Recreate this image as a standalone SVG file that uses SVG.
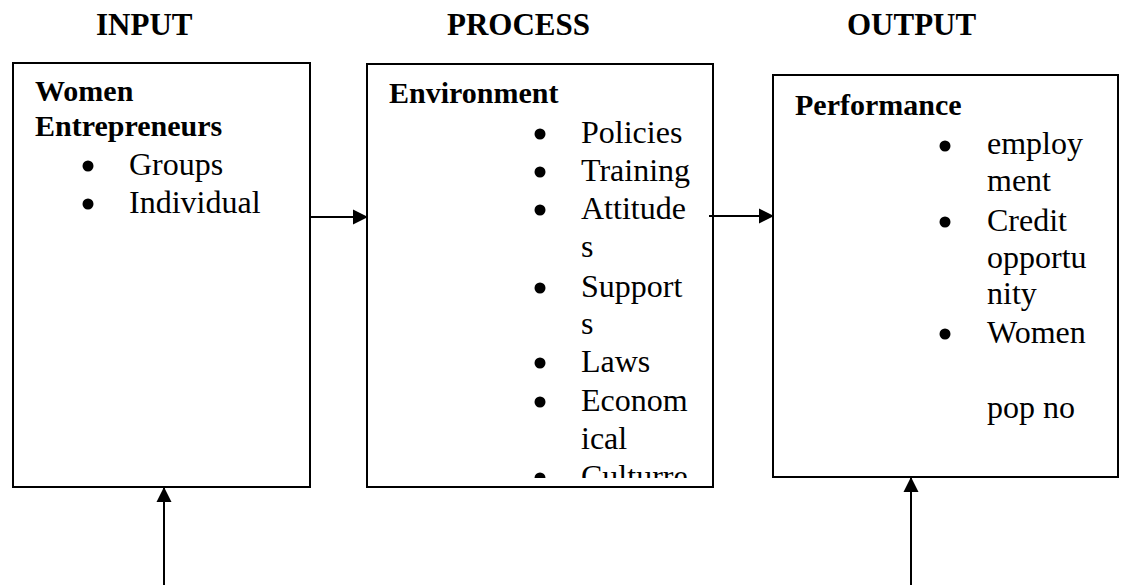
<svg xmlns="http://www.w3.org/2000/svg" width="1121" height="585" viewBox="0 0 1121 585">
<style>
.t{font-family:"Liberation Serif","DejaVu Serif","Times New Roman",serif;fill:#000}
.h{font-weight:700;font-size:31px}
.b{font-weight:700;font-size:30px}
.r{font-weight:400;font-size:32px}
.box{fill:#fff;stroke:#000;stroke-width:2}
.c{stroke:#000;stroke-width:2;fill:none}
</style>
<defs>
<marker id="ah" markerUnits="userSpaceOnUse" markerWidth="16" markerHeight="16" refX="15" refY="7.5" orient="auto" overflow="visible">
<path d="M0,0 L15,7.5 L0,15 z" fill="#000"/>
</marker>
<clipPath id="clip2"><rect x="367" y="64" width="346" height="414"/></clipPath>
</defs>
<rect width="1121" height="585" fill="#fff"/>
<g id="titles">
<text class="t h" x="96" y="35">INPUT</text>
<text class="t h" x="447" y="35">PROCESS</text>
<text class="t h" x="847" y="35">OUTPUT</text>
</g>
<g id="input">
<rect class="box" x="13" y="63" width="297" height="424"/>
<text class="t b" x="35" y="101">Women</text>
<text class="t b" x="35" y="136">Entrepreneurs</text>
<circle cx="88" cy="166" r="5.5"/>
<text class="t r" x="129" y="175" font-family="Liberation Serif, serif">Groups</text>
<circle cx="88" cy="204" r="5.5"/>
<text class="t r" x="129" y="213">Individual</text>
</g>
<g id="process">
<rect class="box" x="367" y="64" width="346" height="423"/>
<text class="t b" x="389" y="103">Environment</text>
<g clip-path="url(#clip2)">
<circle cx="540" cy="134" r="5.5"/>
<text class="t r" x="581" y="143">Policies</text>
<circle cx="540" cy="172" r="5.5"/>
<text class="t r" x="581" y="181">Training</text>
<circle cx="540" cy="210" r="5.5"/>
<text class="t r" x="581" y="219">Attitude</text>
<text class="t r" x="581" y="257">s</text>
<circle cx="540" cy="288" r="5.5"/>
<text class="t r" x="581" y="297">Support</text>
<text class="t r" x="581" y="334">s</text>
<circle cx="540" cy="363" r="5.5"/>
<text class="t r" x="581" y="372">Laws</text>
<circle cx="540" cy="402" r="5.5"/>
<text class="t r" x="581" y="411">Econom</text>
<text class="t r" x="581" y="449">ical</text>
<circle cx="540" cy="478" r="5.5"/>
<text class="t r" x="581" y="487">Culturre</text>
</g>
</g>
<g id="output">
<rect class="box" x="773" y="75" width="345" height="402"/>
<text class="t b" x="795" y="115">Performance</text>
<circle cx="945" cy="146" r="5.5"/>
<text class="t r" x="987" y="154">employ</text>
<text class="t r" x="987" y="191">ment</text>
<circle cx="945" cy="222" r="5.5"/>
<text class="t r" x="987" y="231">Credit</text>
<text class="t r" x="987" y="268">opportu</text>
<text class="t r" x="987" y="304">nity</text>
<circle cx="945" cy="334" r="5.5"/>
<text class="t r" x="987" y="343">Women</text>
<text class="t r" x="987" y="418">pop no</text>
</g>
<g id="connectors">
<line class="c" x1="310" y1="217" x2="368" y2="217" marker-end="url(#ah)"/>
<line class="c" x1="709" y1="216" x2="774" y2="216" marker-end="url(#ah)"/>
<line class="c" x1="164" y1="585" x2="164" y2="487" marker-end="url(#ah)"/>
<line class="c" x1="911" y1="585" x2="911" y2="477" marker-end="url(#ah)"/>
</g>
</svg>
